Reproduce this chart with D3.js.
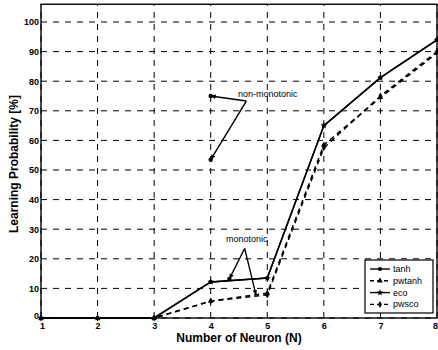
<!DOCTYPE html>
<html><head><meta charset="utf-8">
<script src="https://cdn.jsdelivr.net/npm/d3@7"></script>
<style>
html,body{margin:0;padding:0;background:#fff;}
svg text{font-family:"Liberation Sans",Arial,sans-serif;font-weight:bold;fill:#000;}
</style></head><body>
<svg id="c" width="438" height="350"></svg>
<script>
const neurons = [1,2,3,4,5,6,7,8];
const tanh   = [0,0,0,12.2,13.5,65,81.2,94];
const eco    = [0,0,0,12.2,13.5,65,81.2,94];
const pwtanh = [0,0,0,5.7,8.4,58.5,74.5,89.5];
const pwsco  = [0,0,0,5.7,7.8,57.5,75,90];
const seriesNames = ["tanh","pwtanh","eco","pwsco"];
const yTicks = [0,10,20,30,40,50,60,70,80,90,100];
const xTicks = [1,2,3,4,5,6,7,8];
const nonMonoAnchor = [4.63,73.3];
const nonMonoTargets = [[4,75],[4,53.5]];
const monoAnchor = [4.6,23.5];
const monoTargets = [[4.33,13.2],[4.8,7.8]];
const extraPoints = [[4,75],[4,53.5],[4.33,13.2]];

const svg = d3.select("#c");
const x = d3.scaleLinear().domain([1,8]).range([41,437]);
const y = d3.scaleLinear().domain([0,100]).range([318,22]);
const yTop = y(106);

// grid
const g = svg.append("g");
g.selectAll(".hg").data(yTicks).join("line")
  .attr("x1",x(1)).attr("x2",x(8)).attr("y1",d=>y(d)).attr("y2",d=>y(d))
  .attr("stroke","#000").attr("stroke-width",1).attr("stroke-dasharray","6,6");
g.selectAll(".vg").data(xTicks).join("line")
  .attr("y1",y(0)).attr("y2",yTop).attr("x1",d=>x(d)).attr("x2",d=>x(d))
  .attr("stroke","#000").attr("stroke-width",1).attr("stroke-dasharray","6,6");

// box
svg.append("rect").attr("x",x(1)).attr("y",yTop).attr("width",x(8)-x(1)).attr("height",y(0)-yTop)
  .attr("fill","none").attr("stroke","#000").attr("stroke-width",1.4);

// axes labels
const yAxis = d3.axisLeft(y).tickValues(yTicks).tickSize(0).tickPadding(2).tickFormat(d3.format("d"));
svg.append("g").attr("transform",`translate(${x(1)},0)`).call(yAxis)
  .call(a=>a.select(".domain").remove())
  .selectAll("text").style("font-size","9px").attr("font-family","Liberation Sans, Arial").attr("font-weight","bold")
  .attr("dy",d=>d===0?"0.1em":"0.32em");
const xAxis = d3.axisBottom(x).tickValues(xTicks).tickSize(0).tickPadding(5).tickFormat(d3.format("d"));
svg.append("g").attr("transform",`translate(0,${y(0)})`).call(xAxis)
  .call(a=>a.select(".domain").remove())
  .selectAll("text").style("font-size","9px").attr("font-family","Liberation Sans, Arial").attr("font-weight","bold")
  .attr("dx",d=>d===8?"-2px":(d===1?"1px":"0"));

svg.append("text").attr("x",239).attr("y",342).attr("text-anchor","middle")
  .style("font-size","12px").text("Number of Neuron (N)");
svg.append("text").attr("transform","translate(18,164) rotate(-90)").attr("text-anchor","middle")
  .style("font-size","12px").text("Learning Probability [%]");

// lines
const line = d3.line().x((d,i)=>x(neurons[i])).y(d=>y(d));
function drawSeries(vals, dash, marker){
  svg.append("path").attr("d",line(vals)).attr("fill","none").attr("stroke","#000")
    .attr("stroke-width",1.5).attr("stroke-dasharray",dash);
  svg.append("g").selectAll("path").data(vals).join("path")
    .attr("transform",(d,i)=>`translate(${x(neurons[i])},${y(d)})`)
    .attr("d",d3.symbol().type(marker).size(14)).attr("fill","#000");
}
drawSeries(pwtanh,"5,4",d3.symbolTriangle);
drawSeries(pwsco,"5,4",d3.symbolDiamond);
drawSeries(eco,null,d3.symbolStar);
drawSeries(tanh,null,d3.symbolCircle);

svg.append("g").selectAll("path").data(extraPoints).join("path")
  .attr("transform",d=>`translate(${x(d[0])},${y(d[1])})`)
  .attr("d",d3.symbol().type(d3.symbolCircle).size(16)).attr("fill","#000");

// annotations
svg.append("defs").append("marker").attr("id","ah").attr("viewBox","0 0 10 10")
  .attr("refX",9).attr("refY",5).attr("markerWidth",4).attr("markerHeight",4).attr("orient","auto")
  .append("path").attr("d","M0,1 L10,5 L0,9 Z").attr("fill","#000");
function annot(anchor, targets){
  targets.forEach(t=>{
    svg.append("line").attr("x1",x(anchor[0])).attr("y1",y(anchor[1]))
      .attr("x2",x(t[0])).attr("y2",y(t[1])).attr("stroke","#000").attr("stroke-width",1.4)
      .attr("marker-end","url(#ah)");
  });
}
annot(nonMonoAnchor,nonMonoTargets);
annot(monoAnchor,monoTargets);
svg.append("text").attr("x",238).attr("y",97).style("font-size","9px").style("font-weight","normal").text("non-monotonic");
svg.append("text").attr("x",226).attr("y",242).style("font-size","9px").style("font-weight","normal").text("monotonic");

// legend
const lg = svg.append("g");
lg.append("rect").attr("x",365).attr("y",260).attr("width",68).attr("height",53)
  .attr("fill","#fff").attr("stroke","#000").attr("stroke-width",1.2);
const legDash = [null,"4,3",null,"4,3"];
const legSym = [d3.symbolCircle,d3.symbolTriangle,d3.symbolStar,d3.symbolDiamond];
seriesNames.forEach((n,i)=>{
  const yy = 269 + i*11.8;
  lg.append("line").attr("x1",370).attr("x2",390).attr("y1",yy).attr("y2",yy)
    .attr("stroke","#000").attr("stroke-width",1.4).attr("stroke-dasharray",legDash[i]);
  lg.append("path").attr("transform",`translate(380,${yy})`).attr("d",d3.symbol().type(legSym[i]).size(14)).attr("fill","#000");
  lg.append("text").attr("x",393).attr("y",yy+3).style("font-size","9px").style("font-weight","normal").text(n);
});
</script></body></html>
